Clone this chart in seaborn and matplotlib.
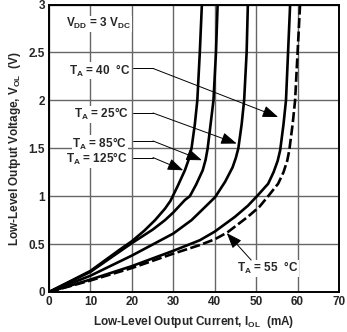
import matplotlib
matplotlib.use("Agg")
import matplotlib.pyplot as plt
import seaborn as sns

# ---- data ----
x_125 = [0, 10, 17, 20, 23, 25.6, 28, 29.3, 31, 32.8, 33.7, 34.4, 35.2, 35.8, 36.4, 36.9]
y_125 = [0, 0.22, 0.44, 0.53, 0.64, 0.75, 0.87, 0.95, 1.10, 1.27, 1.38, 1.50, 1.75, 2.00, 2.50, 3.00]

x_85 = [0, 10, 20, 25, 28, 30, 32.8, 34, 35.5, 37.1, 37.8, 38.3, 39.0, 39.7, 40.3, 40.7]
y_85 = [0, 0.21, 0.51, 0.65, 0.75, 0.83, 0.96, 1.00, 1.12, 1.27, 1.38, 1.50, 1.75, 2.00, 2.50, 3.00]

x_25 = [0, 10, 20, 30, 34.4, 37.5, 40.1, 42.5, 44.3, 45.1, 45.7, 46.5, 47.1, 47.7, 48.0]
y_25 = [0, 0.17, 0.38, 0.61, 0.75, 0.88, 0.99, 1.15, 1.30, 1.40, 1.50, 1.75, 2.00, 2.50, 3.00]

x_40 = [0, 10, 20, 30, 36.4, 40, 44.9, 48, 50.2, 52.9, 54.2, 55.2, 55.8, 56.6, 57.2, 57.7, 58.2]
y_40 = [0, 0.13, 0.27, 0.43, 0.54, 0.63, 0.785, 0.90, 1.00, 1.13, 1.25, 1.37, 1.48, 1.75, 2.00, 2.50, 3.00]

x_55 = [0, 10, 20, 30, 36.4, 40, 43, 48, 50.8, 52.9, 55.3, 56.6, 57.5, 58.0, 58.8, 59.4, 60.0, 60.6]
y_55 = [0, 0.12, 0.25, 0.40, 0.49, 0.55, 0.62, 0.785, 0.89, 1.00, 1.13, 1.25, 1.37, 1.48, 1.75, 2.00, 2.50, 3.00]

x_ticks = [0, 10, 20, 30, 40, 50, 60, 70]
y_ticks = [0, 0.5, 1, 1.5, 2, 2.5, 3]
y_tick_labels = ["0", "0.5", "1", "1.5", "2", "2.5", "3"]

sns.set_theme(style="white")
plt.rcParams["font.family"] = ["Liberation Sans", "DejaVu Sans"]
plt.rcParams["font.weight"] = "bold"
plt.rcParams["mathtext.fontset"] = "custom"
plt.rcParams["mathtext.rm"] = "Liberation Sans:bold"
plt.rcParams["mathtext.it"] = "Liberation Sans:bold"
plt.rcParams["mathtext.bf"] = "Liberation Sans:bold"
plt.rcParams["mathtext.default"] = "rm"

fig = plt.figure(figsize=(3.47, 3.32), dpi=100)
ax = fig.add_axes([0.1412, 0.1205, 0.977 - 0.1412, 0.9864 - 0.1205])

lw = 1.9
for xs, ys in [(x_125, y_125), (x_85, y_85), (x_25, y_25), (x_40, y_40)]:
    sns.lineplot(x=xs, y=ys, ax=ax, color="black", linewidth=lw, sort=False,
                 estimator=None, zorder=3)
sns.lineplot(x=x_55, y=y_55, ax=ax, color="black", linewidth=lw, sort=False,
             estimator=None, zorder=3)
ax.lines[-1].set_dashes((3.8, 1.3))

ax.set_xlim(0, 70)
ax.set_ylim(0, 3)
ax.set_xticks(x_ticks)
ax.set_yticks(y_ticks)
ax.set_yticklabels(y_tick_labels)
ax.tick_params(length=0, labelsize=8.5, pad=3)
for lab in ax.get_xticklabels() + ax.get_yticklabels():
    lab.set_fontweight("bold")
ax.grid(True, color="#666666", linewidth=1.0, zorder=0)
ax.set_axisbelow(True)
for s in ax.spines.values():
    s.set_color("black")
    s.set_linewidth(1.4)

ax.set_xlabel("Low-Level Output Current, I$_{OL}$  (mA)", fontsize=8.5,
              fontweight="bold", labelpad=4)
ax.set_ylabel("Low-Level Output Voltage, V$_{OL}$  (V)", fontsize=8.5,
              fontweight="bold", labelpad=4)

box = dict(facecolor="white", edgecolor="none", pad=0.3)
ax.text(4.2, 2.80, "V$_{DD}$ = 3 V$_{DC}$", fontsize=8.5, fontweight="bold",
        ha="left", va="center", bbox=box, zorder=4)

# labels with leaders: (text, text_x_right, text_y, leader_y, tip_x, tip_y)
labels = [
    ("T$_{A}$ = 40  °C", 19.6, 2.31, 2.333, 55.3, 1.826),
    ("T$_{A}$ = 25°C", 19.4, 1.854, 1.868, 45.3, 1.549),
    ("T$_{A}$ = 85°C", 18.9, 1.545, 1.576, 36.9, 1.375),
    ("T$_{A}$ = 125°C", 18.9, 1.385, 1.403, 32.4, 1.27),
]
arrow = dict(arrowstyle="-|>,head_length=0.8,head_width=0.3",
             color="black", linewidth=0.7, shrinkA=0, shrinkB=0)
for txt, tx, ty, ly, px, py in labels:
    ax.text(tx, ty, txt, fontsize=8.5, fontweight="bold", ha="right",
            va="center", bbox=box, zorder=4)
    ax.plot([20.2, 25.1], [ly, ly], color="black", linewidth=0.7, zorder=4)
    ax.annotate("", xy=(px, py), xytext=(25.1, ly), arrowprops=arrow, zorder=4)

ax.text(45.3, 0.25, "T$_{A}$ = 55  °C", fontsize=8.5, fontweight="bold",
        ha="left", va="center", bbox=box, zorder=4)
ax.annotate("", xy=(42.9, 0.615), xytext=(48.8, 0.333), arrowprops=arrow,
            zorder=4)

fig.savefig("out.png", dpi=100)
